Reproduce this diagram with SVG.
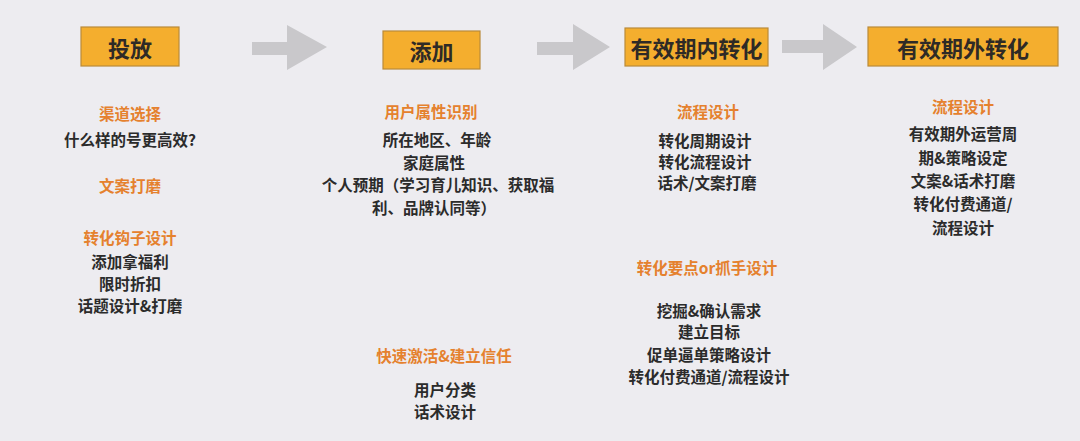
<svg xmlns="http://www.w3.org/2000/svg" width="1080" height="441" viewBox="0 0 1080 441">
<style>
.bg{fill:#EDECF0}
.box rect{fill:#F4AE2E;stroke:#B98A3A;stroke-width:1.2}
.box text{font-family:"Noto Sans CJK SC","Noto Sans",sans-serif;font-size:22px;font-weight:bold;fill:#2E2A26;text-anchor:middle;dominant-baseline:central}
.arrow{fill:#C9C8CB}
.h{font-family:"Noto Sans CJK SC","Noto Sans",sans-serif;font-size:15.5px;font-weight:bold;fill:#E5812E;text-anchor:middle;dominant-baseline:central}
.t{font-family:"Noto Sans CJK SC","Noto Sans",sans-serif;font-size:15.5px;font-weight:bold;fill:#2B2B2B;text-anchor:middle;dominant-baseline:central}
</style>
<rect class="bg" x="0" y="0" width="1080" height="441"/>
<g id="connectors">
<polygon class="arrow" points="252,42 287,42 287,25 327,47 287,70 287,55 252,55"/>
<polygon class="arrow" points="537,42 573,42 573,24 610,47 573,70 573,55 537,55"/>
<polygon class="arrow" points="782,40 823,40 823,24 857,47 823,70 823,53 782,53"/>
</g>
<g id="node-toufang" class="box">
<rect x="81" y="27" width="98" height="39"/>
<text x="130" y="46.5">投放</text>
</g>
<g id="node-tianjia" class="box">
<rect x="383" y="31" width="97" height="38"/>
<text x="431.5" y="50">添加</text>
</g>
<g id="node-neizhuanhua" class="box">
<rect x="625" y="28" width="143" height="38"/>
<text x="696.5" y="47">有效期内转化</text>
</g>
<g id="node-waizhuanhua" class="box">
<rect x="868" y="27" width="190" height="39"/>
<text x="963" y="46.5">有效期外转化</text>
</g>
<g id="col1">
<text class="h" x="130" y="113">渠道选择</text>
<text class="t" x="130" y="139">什么样的号更高效?</text>
<text class="h" x="130" y="185">文案打磨</text>
<text class="h" x="130" y="237">转化钩子设计</text>
<text class="t" x="130" y="261">添加拿福利</text>
<text class="t" x="130" y="283">限时折扣</text>
<text class="t" x="130" y="305">话题设计&amp;打磨</text>
</g>
<g id="col2">
<text class="h" x="431" y="111">用户属性识别</text>
<text class="t" x="437" y="139">所在地区、年龄</text>
<text class="t" x="434" y="162">家庭属性</text>
<text class="t" x="438" y="184">个人预期（学习育儿知识、获取福</text>
<text class="t" x="434" y="207">利、品牌认同等）</text>
<text class="h" x="444" y="355">快速激活&amp;建立信任</text>
<text class="t" x="445" y="389">用户分类</text>
<text class="t" x="445" y="411">话术设计</text>
</g>
<g id="col3">
<text class="h" x="708" y="111">流程设计</text>
<text class="t" x="705" y="140">转化周期设计</text>
<text class="t" x="705" y="161">转化流程设计</text>
<text class="t" x="707" y="182">话术/文案打磨</text>
<text class="h" x="707" y="267">转化要点or抓手设计</text>
<text class="t" x="709" y="310">挖掘&amp;确认需求</text>
<text class="t" x="709" y="331">建立目标</text>
<text class="t" x="709" y="354">促单逼单策略设计</text>
<text class="t" x="709" y="376">转化付费通道/流程设计</text>
</g>
<g id="col4">
<text class="h" x="963" y="106">流程设计</text>
<text class="t" x="963" y="133">有效期外运营周</text>
<text class="t" x="963" y="157">期&amp;策略设定</text>
<text class="t" x="963" y="180">文案&amp;话术打磨</text>
<text class="t" x="963" y="203">转化付费通道/</text>
<text class="t" x="963" y="227">流程设计</text>
</g>
</svg>
